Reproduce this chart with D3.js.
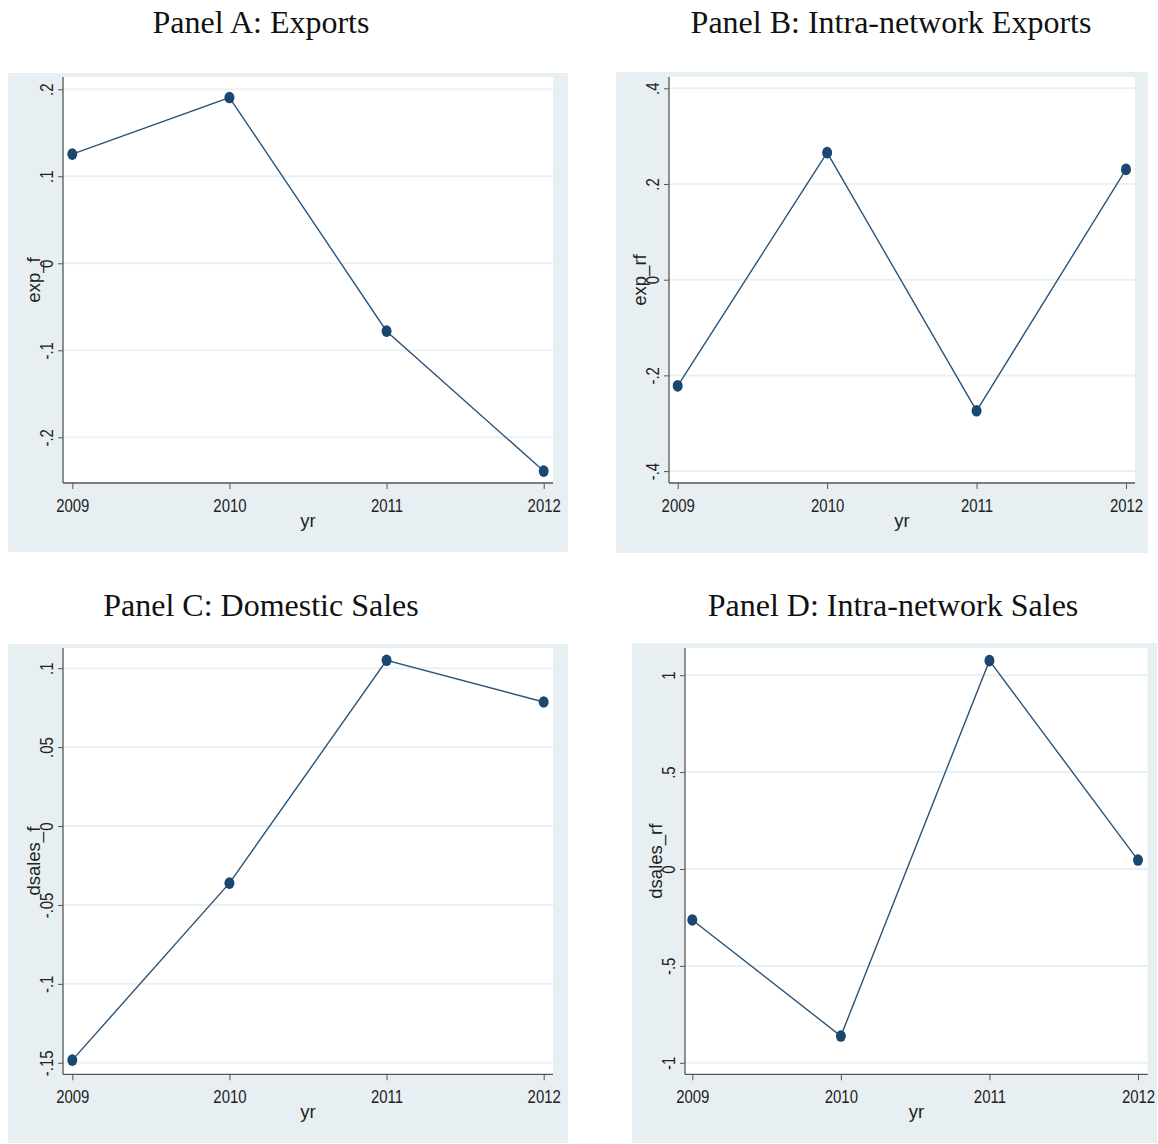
<!DOCTYPE html>
<html>
<head>
<meta charset="utf-8">
<script src="https://cdn.jsdelivr.net/npm/d3@7"></script>
<style>
  html, body { margin: 0; padding: 0; background: #ffffff; }
  svg { display: block; }
  .title { font-family: "Liberation Serif", "Times New Roman", serif; font-size: 32px; fill: #111; }
  .tick-label { font-family: "Liberation Sans", Arial, sans-serif; font-size: 18px; fill: #222; }
  .axis-title { font-family: "Liberation Sans", Arial, sans-serif; font-size: 18.5px; fill: #222; }
</style>
</head>
<body>
<svg id="chart" width="1158" height="1144"></svg>
<script>
// Years on the horizontal axis (shared by all panels)
const years = [2009, 2010, 2011, 2012];

// Series values, one array per panel
const expF = [0.1255, 0.1905, -0.0780, -0.2388];
const expRf = [-0.2220, 0.2655, -0.2740, 0.2305];
const dsalesF = [-0.1483, -0.0362, 0.1050, 0.0786];
const dsalesRf = [-0.2630, -0.8620, 1.0750, 0.0460];

// Tick values and their printed labels
const ticksExpF = [-0.2, -0.1, 0, 0.1, 0.2];
const tickLabelsExpF = ["-.2", "-.1", "0", ".1", ".2"];
const ticksExpRf = [-0.4, -0.2, 0, 0.2, 0.4];
const tickLabelsExpRf = ["-.4", "-.2", "0", ".2", ".4"];
const ticksDsalesF = [-0.15, -0.1, -0.05, 0, 0.05, 0.1];
const tickLabelsDsalesF = ["-.15", "-.1", "-.05", "0", ".05", ".1"];
const ticksDsalesRf = [-1, -0.5, 0, 0.5, 1];
const tickLabelsDsalesRf = ["-1", "-.5", "0", ".5", "1"];

// Panel titles and variable names
const panelTitles = ["Panel A: Exports", "Panel B: Intra-network Exports", "Panel C: Domestic Sales", "Panel D: Intra-network Sales"];
const varNames = ["exp_f", "exp_rf", "dsales_f", "dsales_rf"];
const xTitle = "yr";

// Layout for each panel: outer graph region, plot region, and axis extent
const panels = [
  { title: panelTitles[0], yTitle: varNames[0], values: expF, ticks: ticksExpF, tickLabels: tickLabelsExpF,
    titleX: 261, titleY: 33,
    bg: [8, 73, 568, 552], plot: [63, 77, 553, 483], yDomain: [-0.2525, 0.2141], xRange: [72.3, 543.7] },
  { title: panelTitles[1], yTitle: varNames[1], values: expRf, ticks: ticksExpRf, tickLabels: tickLabelsExpRf,
    titleX: 891, titleY: 33,
    bg: [616, 72, 1148, 553], plot: [669, 77, 1135, 483], yDomain: [-0.4249, 0.4236], xRange: [677.7, 1126] },
  { title: panelTitles[2], yTitle: varNames[2], values: dsalesF, ticks: ticksDsalesF, tickLabels: tickLabelsDsalesF,
    titleX: 261, titleY: 616,
    bg: [8, 644, 568, 1143], plot: [63, 648, 553, 1074.3], yDomain: [-0.1573, 0.1128], xRange: [72.3, 543.7] },
  { title: panelTitles[3], yTitle: varNames[3], values: dsalesRf, ticks: ticksDsalesRf, tickLabels: tickLabelsDsalesRf,
    titleX: 893, titleY: 616,
    bg: [632, 643, 1157, 1143], plot: [685, 648, 1147.7, 1074.3], yDomain: [-1.0594, 1.1403], xRange: [692.3, 1138] }
];

const svg = d3.select("#chart");
const navy = "#1a476f";
// Horizontal squeeze giving the tick numbers a narrow face
const narrow = "scale(0.83,1)";

panels.forEach(p => {
  const g = svg.append("g");
  const [bx0, by0, bx1, by1] = p.bg;
  const [px0, py0, px1, py1] = p.plot;

  // Title above the graph
  svg.append("text").attr("class", "title")
    .attr("x", p.titleX).attr("y", p.titleY)
    .attr("text-anchor", "middle").text(p.title);

  // Graph background
  g.append("rect").attr("x", bx0).attr("y", by0)
    .attr("width", bx1 - bx0).attr("height", by1 - by0).attr("fill", "#e8eff2");
  // Plot region
  g.append("rect").attr("x", px0).attr("y", py0)
    .attr("width", px1 - px0).attr("height", py1 - py0).attr("fill", "#ffffff");

  const x = d3.scaleLinear().domain([years[0], years[years.length - 1]]).range(p.xRange);
  const y = d3.scaleLinear().domain(p.yDomain).range([py1, py0]);

  // Horizontal grid lines
  g.selectAll("line.grid").data(p.ticks).join("line")
    .attr("class", "grid")
    .attr("x1", px0).attr("x2", px1)
    .attr("y1", d => y(d)).attr("y2", d => y(d))
    .attr("stroke", "#eaf1f3").attr("stroke-width", 2);

  // Left axis
  const yAxis = d3.axisLeft(y).tickValues(p.ticks).tickSize(5).tickPadding(4)
    .tickFormat((d, i) => p.tickLabels[i]);
  const ya = g.append("g").attr("transform", `translate(${px0},0)`).call(yAxis);
  ya.select(".domain").attr("d", `M0,${py0}V${py1}`).attr("stroke", "#555").attr("stroke-width", 1.3);
  ya.selectAll(".tick line").attr("stroke", "#555").attr("stroke-width", 1);
  ya.selectAll(".tick text").attr("class", "tick-label")
    .attr("x", null).attr("dy", null)
    .attr("text-anchor", "middle")
    .attr("dominant-baseline", "central")
    .attr("transform", `translate(-16,0) rotate(-90) ${narrow}`);
  ya.attr("font-size", null).attr("font-family", null);

  // Bottom axis
  const xAxis = d3.axisBottom(x).tickValues(years).tickSize(6).tickPadding(4)
    .tickFormat(d3.format("d"));
  const xa = g.append("g").attr("transform", `translate(0,${py1})`).call(xAxis);
  xa.select(".domain").attr("d", `M${px0},0H${px1}`).attr("stroke", "#555").attr("stroke-width", 1.3);
  xa.selectAll(".tick line").attr("stroke", "#555").attr("stroke-width", 1);
  xa.selectAll(".tick text").attr("class", "tick-label").attr("dy", null).attr("y", 29)
    .attr("transform", narrow);
  xa.attr("font-size", null).attr("font-family", null);

  // Axis titles
  g.append("text").attr("class", "axis-title")
    .attr("transform", `translate(${px0 - 30},${(py0 + py1) / 2}) rotate(-90)`)
    .attr("text-anchor", "middle").attr("dominant-baseline", "central")
    .text(p.yTitle);
  g.append("text").attr("class", "axis-title")
    .attr("transform", `translate(${(px0 + px1) / 2},${py1 + 44})`)
    .attr("text-anchor", "middle").text(xTitle);

  // Connected series
  const pts = years.map((yr, i) => [yr, p.values[i]]);
  g.append("path").datum(pts)
    .attr("fill", "none").attr("stroke", "#2b5478").attr("stroke-width", 1.4)
    .attr("d", d3.line().x(d => x(d[0])).y(d => y(d[1])));
  g.selectAll("ellipse.pt").data(pts).join("ellipse")
    .attr("class", "pt")
    .attr("cx", d => x(d[0])).attr("cy", d => y(d[1]))
    .attr("rx", 5).attr("ry", 5.8)
    .attr("fill", navy);
});
</script>
</body>
</html>
